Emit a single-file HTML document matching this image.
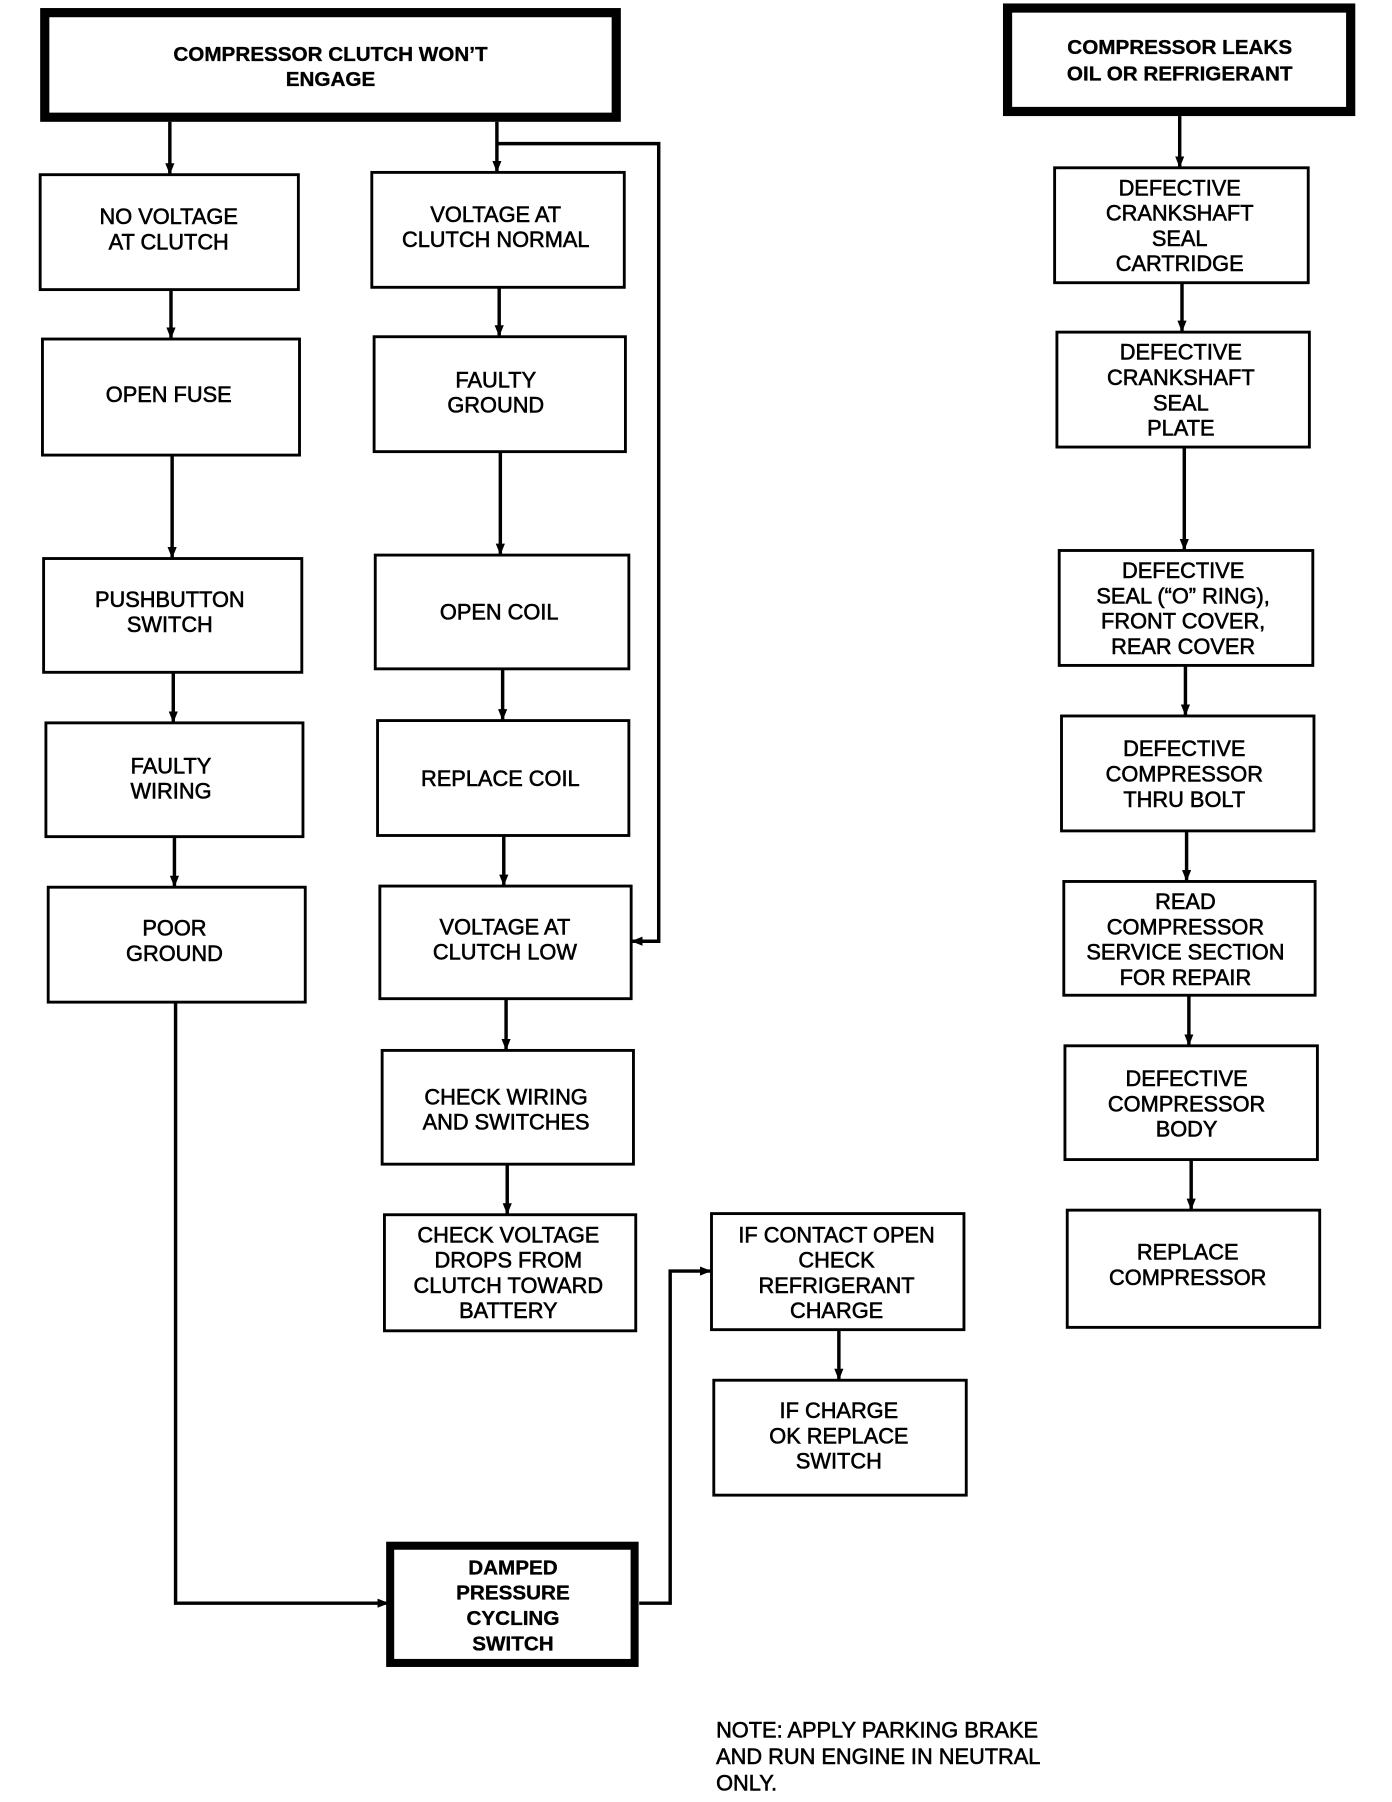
<!DOCTYPE html>
<html><head><meta charset="utf-8"><style>html,body{margin:0;padding:0;background:#fff}svg{display:block}</style></head>
<body>
<svg width="1392" height="1802" viewBox="0 0 1213 1568" preserveAspectRatio="none" xmlns="http://www.w3.org/2000/svg">
<defs><marker id="a" markerWidth="10" markerHeight="10" refX="9" refY="5" orient="auto" markerUnits="userSpaceOnUse"><path d="M0,1 L10,5 L0,9 Z" fill="#000"/></marker></defs>
<g fill="none" stroke="#000" stroke-width="2.5">
<rect x="39" y="11" width="498" height="91" stroke-width="8"/>
<rect x="878" y="7" width="299" height="90" stroke-width="8"/>
<rect x="35" y="152" width="225" height="100"/>
<rect x="37" y="295" width="224" height="101"/>
<rect x="38" y="486" width="225" height="99"/>
<rect x="40" y="629" width="224" height="99"/>
<rect x="42" y="772" width="224" height="100"/>
<rect x="324" y="150" width="220" height="100"/>
<rect x="326" y="293" width="219" height="100"/>
<rect x="327" y="483" width="221" height="99"/>
<rect x="329" y="627" width="219" height="100"/>
<rect x="331" y="771" width="219" height="98"/>
<rect x="333" y="914" width="219" height="99"/>
<rect x="335" y="1057" width="219" height="101"/>
<rect x="340" y="1345" width="213" height="102" stroke-width="7"/>
<rect x="620" y="1056" width="220" height="101"/>
<rect x="622" y="1201" width="220" height="100"/>
<rect x="919" y="146" width="221" height="100"/>
<rect x="921" y="289" width="220" height="100"/>
<rect x="923" y="479" width="221" height="100"/>
<rect x="925" y="623" width="220" height="100"/>
<rect x="927" y="767" width="219" height="99"/>
<rect x="928" y="910" width="220" height="99"/>
<rect x="930" y="1053" width="220" height="102"/>
</g>
<g fill="none" stroke="#000" stroke-width="3" marker-end="url(#a)">
<path d="M148 106 V151"/><path d="M149 252 V294"/><path d="M150 396 V485"/><path d="M151 585 V628"/><path d="M152 728 V771"/>
<path d="M433 106 V149"/><path d="M435 250 V292"/><path d="M436 393 V482"/><path d="M438 582 V626"/><path d="M439 727 V770"/><path d="M441 869 V913"/><path d="M442 1013 V1056"/>
<path d="M433 125 H574 V819 H551"/>
<path d="M153 872 V1395 H338"/>
<path d="M557 1395 H584 V1106 H619"/>
<path d="M731 1157 V1200"/>
<path d="M1028 101 V145"/><path d="M1030 246 V288"/><path d="M1032 389 V478"/><path d="M1033 579 V622"/><path d="M1034 723 V766"/><path d="M1036 866 V909"/><path d="M1038 1009 V1052"/>
</g>
<g font-family="Liberation Sans, sans-serif" font-size="19" text-anchor="middle" fill="#000" stroke="#000" stroke-width="0.5">
<g font-weight="bold" font-size="18" stroke-width="0.3">
<text x="288" y="53">COMPRESSOR CLUTCH WON’T</text><text x="288" y="75">ENGAGE</text>
<text x="1028" y="47">COMPRESSOR LEAKS</text><text x="1028" y="70">OIL OR REFRIGERANT</text>
<text x="447" y="1370">DAMPED</text><text x="447" y="1392">PRESSURE</text><text x="447" y="1414">CYCLING</text><text x="447" y="1436">SWITCH</text>
</g>
<text x="147" y="195">NO VOLTAGE</text><text x="147" y="217">AT CLUTCH</text>
<text x="147" y="350">OPEN FUSE</text>
<text x="148" y="528">PUSHBUTTON</text><text x="148" y="550">SWITCH</text>
<text x="149" y="673">FAULTY</text><text x="149" y="695">WIRING</text>
<text x="152" y="814">POOR</text><text x="152" y="836">GROUND</text>
<text x="432" y="193">VOLTAGE AT</text><text x="432" y="215">CLUTCH NORMAL</text>
<text x="432" y="337">FAULTY</text><text x="432" y="359">GROUND</text>
<text x="435" y="539">OPEN COIL</text>
<text x="436" y="684">REPLACE COIL</text>
<text x="440" y="813">VOLTAGE AT</text><text x="440" y="835">CLUTCH LOW</text>
<text x="441" y="961">CHECK WIRING</text><text x="441" y="983">AND SWITCHES</text>
<text x="443" y="1081">CHECK VOLTAGE</text><text x="443" y="1103">DROPS FROM</text><text x="443" y="1125">CLUTCH TOWARD</text><text x="443" y="1147">BATTERY</text>
<text x="729" y="1081">IF CONTACT OPEN</text><text x="729" y="1103">CHECK</text><text x="729" y="1125">REFRIGERANT</text><text x="729" y="1147">CHARGE</text>
<text x="731" y="1234">IF CHARGE</text><text x="731" y="1256">OK REPLACE</text><text x="731" y="1278">SWITCH</text>
<text x="1028" y="170">DEFECTIVE</text><text x="1028" y="192">CRANKSHAFT</text><text x="1028" y="214">SEAL</text><text x="1028" y="236">CARTRIDGE</text>
<text x="1029" y="313">DEFECTIVE</text><text x="1029" y="335">CRANKSHAFT</text><text x="1029" y="357">SEAL</text><text x="1029" y="379">PLATE</text>
<text x="1031" y="503">DEFECTIVE</text><text x="1031" y="525">SEAL (“O” RING),</text><text x="1031" y="547">FRONT COVER,</text><text x="1031" y="569">REAR COVER</text>
<text x="1032" y="658">DEFECTIVE</text><text x="1032" y="680">COMPRESSOR</text><text x="1032" y="702">THRU BOLT</text>
<text x="1033" y="791">READ</text><text x="1033" y="813">COMPRESSOR</text><text x="1033" y="835">SERVICE SECTION</text><text x="1033" y="857">FOR REPAIR</text>
<text x="1034" y="945">DEFECTIVE</text><text x="1034" y="967">COMPRESSOR</text><text x="1034" y="989">BODY</text>
<text x="1035" y="1096">REPLACE</text><text x="1035" y="1118">COMPRESSOR</text>
<g text-anchor="start"><text x="624" y="1512">NOTE: APPLY PARKING BRAKE</text><text x="624" y="1535">AND RUN ENGINE IN NEUTRAL</text><text x="624" y="1558">ONLY.</text></g>
</g>
</svg>
</body></html>
